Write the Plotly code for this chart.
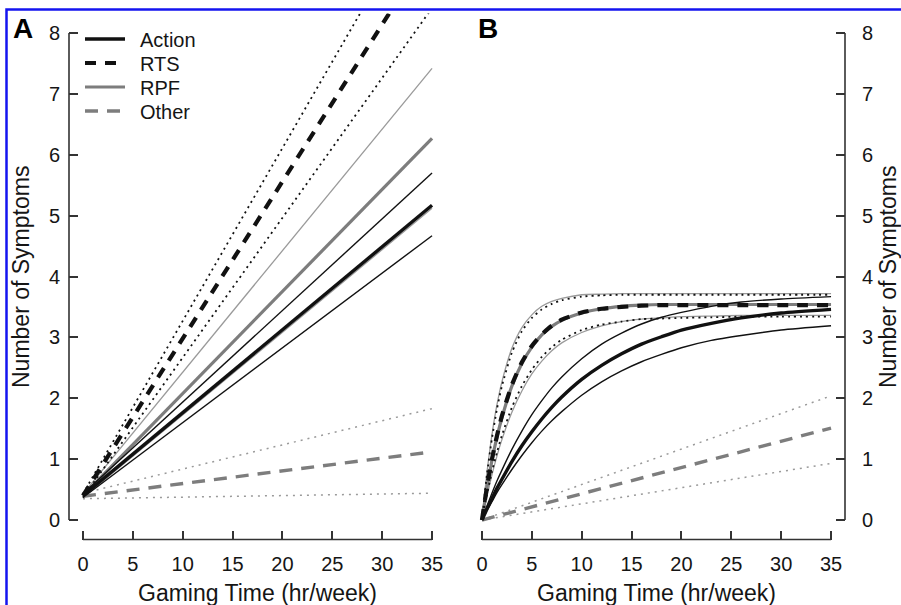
import plotly.graph_objects as go

W, H = 901, 605

# ---------------- data ----------------
XA = [0, 35]
A_action_mean = [0.40, 5.17]
A_action_hi = [0.43, 5.70]
A_action_lo = [0.37, 4.67]
A_rts_mean = [0.40, 9.43]
A_rts_hi = [0.43, 10.37]
A_rts_lo = [0.37, 8.41]
A_rpf_mean = [0.40, 6.27]
A_rpf_hi = [0.43, 7.42]
A_rpf_lo = [0.37, 5.12]
A_other_mean = [0.39, 1.12]
A_other_hi = [0.44, 1.83]
A_other_lo = [0.35, 0.44]

XB = [0, 0.5, 1, 1.5, 2, 3, 4, 5, 6, 7, 8, 10, 12, 14, 16, 18, 20, 23, 26, 30, 35]
B_rts_hi = [0, 0.75, 1.34, 1.82, 2.20, 2.75, 3.10, 3.32, 3.46, 3.55, 3.61, 3.67, 3.69, 3.70, 3.70, 3.70, 3.70, 3.70, 3.70, 3.70, 3.70]
B_rpf_hi = [0, 0.78, 1.40, 1.89, 2.27, 2.82, 3.16, 3.37, 3.51, 3.59, 3.64, 3.70, 3.71, 3.72, 3.72, 3.72, 3.72, 3.72, 3.72, 3.72, 3.72]
B_rts_mean = [0, 0.54, 1.00, 1.38, 1.71, 2.22, 2.59, 2.86, 3.05, 3.19, 3.29, 3.41, 3.47, 3.50, 3.52, 3.53, 3.53, 3.53, 3.53, 3.53, 3.53]
B_rpf_mean = [0, 0.53, 0.98, 1.36, 1.68, 2.20, 2.57, 2.84, 3.04, 3.18, 3.28, 3.40, 3.47, 3.51, 3.53, 3.54, 3.54, 3.54, 3.54, 3.54, 3.54]
B_rts_lo = [0, 0.42, 0.79, 1.11, 1.39, 1.85, 2.20, 2.47, 2.68, 2.84, 2.96, 3.12, 3.21, 3.26, 3.30, 3.31, 3.32, 3.33, 3.34, 3.34, 3.34]
B_rpf_lo = [0, 0.39, 0.74, 1.05, 1.32, 1.77, 2.12, 2.40, 2.61, 2.78, 2.91, 3.08, 3.19, 3.26, 3.30, 3.32, 3.34, 3.35, 3.36, 3.36, 3.36]
B_action_mean = [0, 0.18, 0.35, 0.52, 0.67, 0.96, 1.22, 1.45, 1.66, 1.85, 2.02, 2.31, 2.54, 2.73, 2.89, 3.01, 3.12, 3.23, 3.32, 3.40, 3.46]
B_action_hi = [0, 0.23, 0.44, 0.64, 0.82, 1.16, 1.46, 1.73, 1.96, 2.17, 2.35, 2.65, 2.89, 3.07, 3.22, 3.33, 3.41, 3.51, 3.58, 3.63, 3.67]
B_action_lo = [0, 0.16, 0.30, 0.45, 0.58, 0.83, 1.06, 1.27, 1.46, 1.63, 1.78, 2.05, 2.27, 2.45, 2.60, 2.72, 2.83, 2.95, 3.03, 3.12, 3.19]
XB_other = [0, 35]
B_other_mean = [0, 1.51]
B_other_hi = [0, 2.04]
B_other_lo = [0, 0.93]

X_TICKS = [0, 5, 10, 15, 20, 25, 30, 35]
Y_TICKS = [0, 1, 2, 3, 4, 5, 6, 7, 8]
LEGEND_NAMES = ["Action", "RTS", "RPF", "Other"]

# ---------------- styles ----------------
BLACK = "#111111"
GRAY = "#7d7d7d"
LGRAY = "#9a9a9a"
AXC = "#333333"
TXT = "#151515"
FONT = "Liberation Sans, Arial, Helvetica, sans-serif"

S_MEAN = {
    "Action": dict(color=BLACK, width=3.4, dash="solid"),
    "RTS": dict(color=BLACK, width=4.2, dash="11px,9px"),
    "RPF": dict(color=GRAY, width=3.2, dash="solid"),
    "Other": dict(color=GRAY, width=3.4, dash="13px,9px"),
}
S_CI = {
    "Action": dict(color=BLACK, width=1.4, dash="solid"),
    "RTS": dict(color=BLACK, width=1.8, dash="2px,4px"),
    "RPF": dict(color=LGRAY, width=1.3, dash="solid"),
    "Other": dict(color=LGRAY, width=1.5, dash="2px,5px"),
}
LEGEND_ID = {"Action": "legend", "RTS": "legend2", "RPF": "legend3", "Other": "legend4"}
LEGEND_ROW_Y = {"Action": 39, "RTS": 63, "RPF": 87, "Other": 111}

fig = go.Figure()


def add(x, y, xa, ya, style, name, legend=None):
    fig.add_trace(go.Scatter(
        x=x, y=y, xaxis=xa, yaxis=ya, mode="lines",
        name=("\u2002" + name) if legend else name,
        line=dict(shape="spline", smoothing=0.6, **style),
        showlegend=bool(legend), legend=legend or "legend", hoverinfo="skip"))


panel_a = {
    "Other": (XA, A_other_mean, A_other_hi, A_other_lo),
    "RPF": (XA, A_rpf_mean, A_rpf_hi, A_rpf_lo),
    "Action": (XA, A_action_mean, A_action_hi, A_action_lo),
    "RTS": (XA, A_rts_mean, A_rts_hi, A_rts_lo),
}
panel_b = {
    "Other": (XB_other, B_other_mean, B_other_hi, B_other_lo),
    "RPF": (XB, B_rpf_mean, B_rpf_hi, B_rpf_lo),
    "Action": (XB, B_action_mean, B_action_hi, B_action_lo),
    "RTS": (XB, B_rts_mean, B_rts_hi, B_rts_lo),
}

for key, (x, m, hi, lo) in panel_a.items():
    add(x, hi, "x", "y", S_CI[key], key + " CI")
    add(x, lo, "x", "y", S_CI[key], key + " CI")
    add(x, m, "x", "y", S_MEAN[key], key, legend=LEGEND_ID[key])
for key, (x, m, hi, lo) in panel_b.items():
    add(x, hi, "x2", "y2", S_CI[key], key + " CI")
    add(x, lo, "x2", "y2", S_CI[key], key + " CI")
    add(x, m, "x2", "y2", S_MEAN[key], key)


def px_x(p):
    return p / W


def px_y(p):
    return 1 - p / H


XDOM_A = [px_x(69), px_x(446)]
XDOM_B = [px_x(468), px_x(845)]
YDOM = [px_y(539.5), px_y(13.5)]

common = dict(showgrid=False, zeroline=False, showline=False, ticks="inside",
              ticklen=9, tickwidth=1.5, tickcolor=AXC,
              tickfont=dict(family=FONT, size=20, color=TXT))

legend_common = dict(xanchor="left", yanchor="middle", bgcolor="rgba(0,0,0,0)",
                     font=dict(family=FONT, size=20, color=TXT), itemwidth=40,
                     borderwidth=0)
legends = {}
for key, lid in LEGEND_ID.items():
    legends[lid] = dict(x=px_x(80), y=px_y(LEGEND_ROW_Y[key]), **legend_common)

fig.update_layout(
    width=W, height=H, margin=dict(l=0, r=0, t=0, b=0),
    paper_bgcolor="white", plot_bgcolor="white",
    font=dict(family=FONT, color=TXT),
    xaxis=dict(domain=XDOM_A, range=[-1.4, 36.4], anchor="y", tickvals=X_TICKS,
               ticklabelstandoff=10, **common),
    yaxis=dict(domain=YDOM, range=[-0.32, 8.32], anchor="x", tickvals=Y_TICKS,
               ticklabelstandoff=8, **common),
    xaxis2=dict(domain=XDOM_B, range=[-1.4, 36.4], anchor="y2", tickvals=X_TICKS,
                ticklabelstandoff=10, **common),
    yaxis2=dict(domain=YDOM, range=[-0.32, 8.32], anchor="x2", side="right",
                tickvals=Y_TICKS, ticklabelstandoff=16, **common),
    showlegend=True,
    **legends,
)

# axis lines spanning only the tick range (R style)
line_style = dict(color=AXC, width=1.6)
fig.add_shape(type="line", xref="x", yref="y domain", x0=0, x1=35, y0=0, y1=0, line=line_style)
fig.add_shape(type="line", xref="x domain", yref="y", x0=0, x1=0, y0=0, y1=8, line=line_style)
fig.add_shape(type="line", xref="x2", yref="y2 domain", x0=0, x1=35, y0=0, y1=0, line=line_style)
fig.add_shape(type="line", xref="x2 domain", yref="y2", x0=1, x1=1, y0=0, y1=8, line=line_style)

# blue frame of the original figure
fig.add_shape(type="rect", xref="paper", yref="paper", x0=px_x(6.5), x1=1.2,
              y0=-0.2, y1=px_y(9.5), line=dict(color="#1414f0", width=2.5))

ann_font = dict(family=FONT, size=23, color=TXT)
fig.add_annotation(text="Number of Symptoms", x=px_x(21), y=px_y(277), xref="paper", yref="paper",
                   textangle=-90, showarrow=False, font=ann_font, xanchor="center", yanchor="middle")
fig.add_annotation(text="Number of Symptoms", x=px_x(888), y=px_y(277), xref="paper", yref="paper",
                   textangle=-90, showarrow=False, font=ann_font, xanchor="center", yanchor="middle")
fig.add_annotation(text="Gaming Time (hr/week)", x=px_x(257.5), y=px_y(593), xref="paper", yref="paper",
                   showarrow=False, font=ann_font, xanchor="center", yanchor="middle")
fig.add_annotation(text="Gaming Time (hr/week)", x=px_x(656.5), y=px_y(593), xref="paper", yref="paper",
                   showarrow=False, font=ann_font, xanchor="center", yanchor="middle")
fig.add_annotation(text="<b>A</b>", x=px_x(23), y=px_y(28), xref="paper", yref="paper",
                   showarrow=False, font=dict(family=FONT, size=28, color="#000"),
                   xanchor="center", yanchor="middle")
fig.add_annotation(text="<b>B</b>", x=px_x(488), y=px_y(28), xref="paper", yref="paper",
                   showarrow=False, font=dict(family=FONT, size=28, color="#000"),
                   xanchor="center", yanchor="middle")

fig.write_html(
    "out.html",
    config={"displayModeBar": False},
    post_script="document.body.style.margin='0';document.body.style.padding='0';"
                "document.body.style.overflow='hidden';",
)
